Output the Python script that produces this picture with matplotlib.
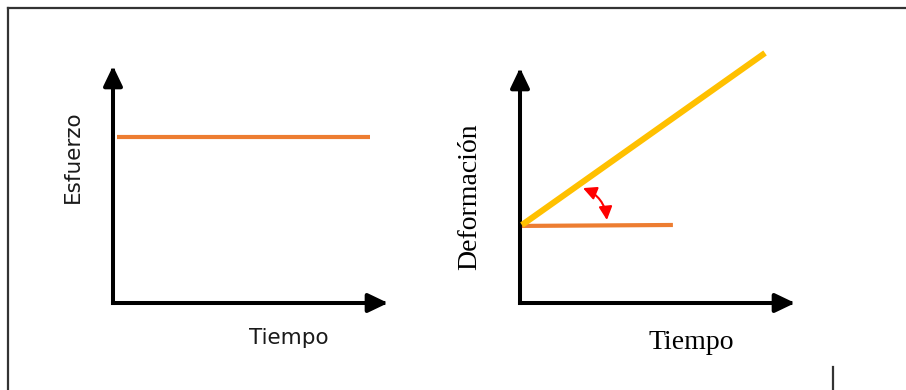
import matplotlib
matplotlib.use('Agg')
import matplotlib.pyplot as plt
from matplotlib.lines import Line2D
from matplotlib.patches import FancyArrowPatch

# ── Data (axes units, origin at the axis corner) ─────────────────────────
tiempo_esf = [0.015, 0.935]
esfuerzo = [0.70, 0.70]

tiempo_def = [0.007, 0.891]
deformacion = [0.332, 1.064]

tiempo_ref = [0.007, 0.556]
deformacion_ref = [0.328, 0.332]

# angle marker between the two strain lines
arco_ini = (0.229, 0.489)
arco_fin = (0.316, 0.353)

ORANGE = '#ED7D31'
YELLOW = '#FFC000'
RED = '#FF0000'

W, H = 906, 390
fig = plt.figure(figsize=(W / 100, H / 100), dpi=100)
fig.patch.set_facecolor('white')


def px_axes(x0, y0, x1, y1):
    """Axes whose corner is at pixel (x0, y0) and arrow tips at x1 / y1."""
    return fig.add_axes([x0 / W, (H - y0) / H, (x1 - x0) / W, (y0 - y1) / H])


def draw_axes_arrows(ax):
    style = '-|>,head_length=1.0,head_width=0.48'
    for tip in [(1, 0), (0, 1)]:
        ax.add_patch(FancyArrowPatch((0, 0), tip, arrowstyle=style,
                                     mutation_scale=12, lw=2.9,
                                     color='black', shrinkA=0, shrinkB=0,
                                     capstyle='projecting', joinstyle='round',
                                     transform=ax.transAxes, clip_on=False))
    ax.set_xlim(0, 1)
    ax.set_ylim(0, 1)
    ax.axis('off')


# ── Left panel: constant stress ──────────────────────────────────────────
ax1 = px_axes(113, 303, 388, 66)
draw_axes_arrows(ax1)
ax1.plot(tiempo_esf, esfuerzo, color=ORANGE, lw=3.0, solid_capstyle='butt',
         clip_on=False)
ax1.text(-0.145, 0.616, 'Esfuerzo', rotation=90, ha='center', va='center',
         fontsize=15.5, family='DejaVu Sans', color='#1a1a1a',
         transform=ax1.transAxes)
ax1.text(0.64, -0.148, 'Tiempo', ha='center', va='center',
         fontsize=15.5, family='DejaVu Sans', color='#1a1a1a',
         transform=ax1.transAxes)

# ── Right panel: strain vs time ──────────────────────────────────────────
ax2 = px_axes(520, 303, 795, 68)
draw_axes_arrows(ax2)
ax2.plot(tiempo_ref, deformacion_ref, color=ORANGE, lw=3.0,
         solid_capstyle='butt', clip_on=False)
ax2.plot(tiempo_def, deformacion, color=YELLOW, lw=4.4,
         solid_capstyle='butt', clip_on=False)
ax2.add_patch(FancyArrowPatch(arco_ini, arco_fin,
                              arrowstyle='<|-|>,head_length=1.0,head_width=0.5',
                              connectionstyle='arc3,rad=-0.3',
                              mutation_scale=8, lw=1.5, color=RED,
                              shrinkA=0, shrinkB=0, clip_on=False))
ax2.text(-0.182, 0.451, 'Deformación', rotation=90, ha='center', va='center',
         fontsize=20, family='Liberation Serif', color='black',
         transform=ax2.transAxes)
ax2.text(0.622, -0.170, 'Tiempo', ha='center', va='center',
         fontsize=20, family='Liberation Serif', color='black',
         transform=ax2.transAxes)

# ── Frame lines around the figure ────────────────────────────────────────
frame_kw = dict(color='#333333', lw=1.6, transform=fig.transFigure)
fig.add_artist(Line2D([8 / W, 1.0], [1 - 8 / H, 1 - 8 / H], **frame_kw))
fig.add_artist(Line2D([8 / W, 8 / W], [0.0, 1 - 8 / H], **frame_kw))
fig.add_artist(Line2D([833 / W, 833 / W], [0.0, 1 - 367 / H], **frame_kw))

fig.savefig('out.png', dpi=100, facecolor='white')
